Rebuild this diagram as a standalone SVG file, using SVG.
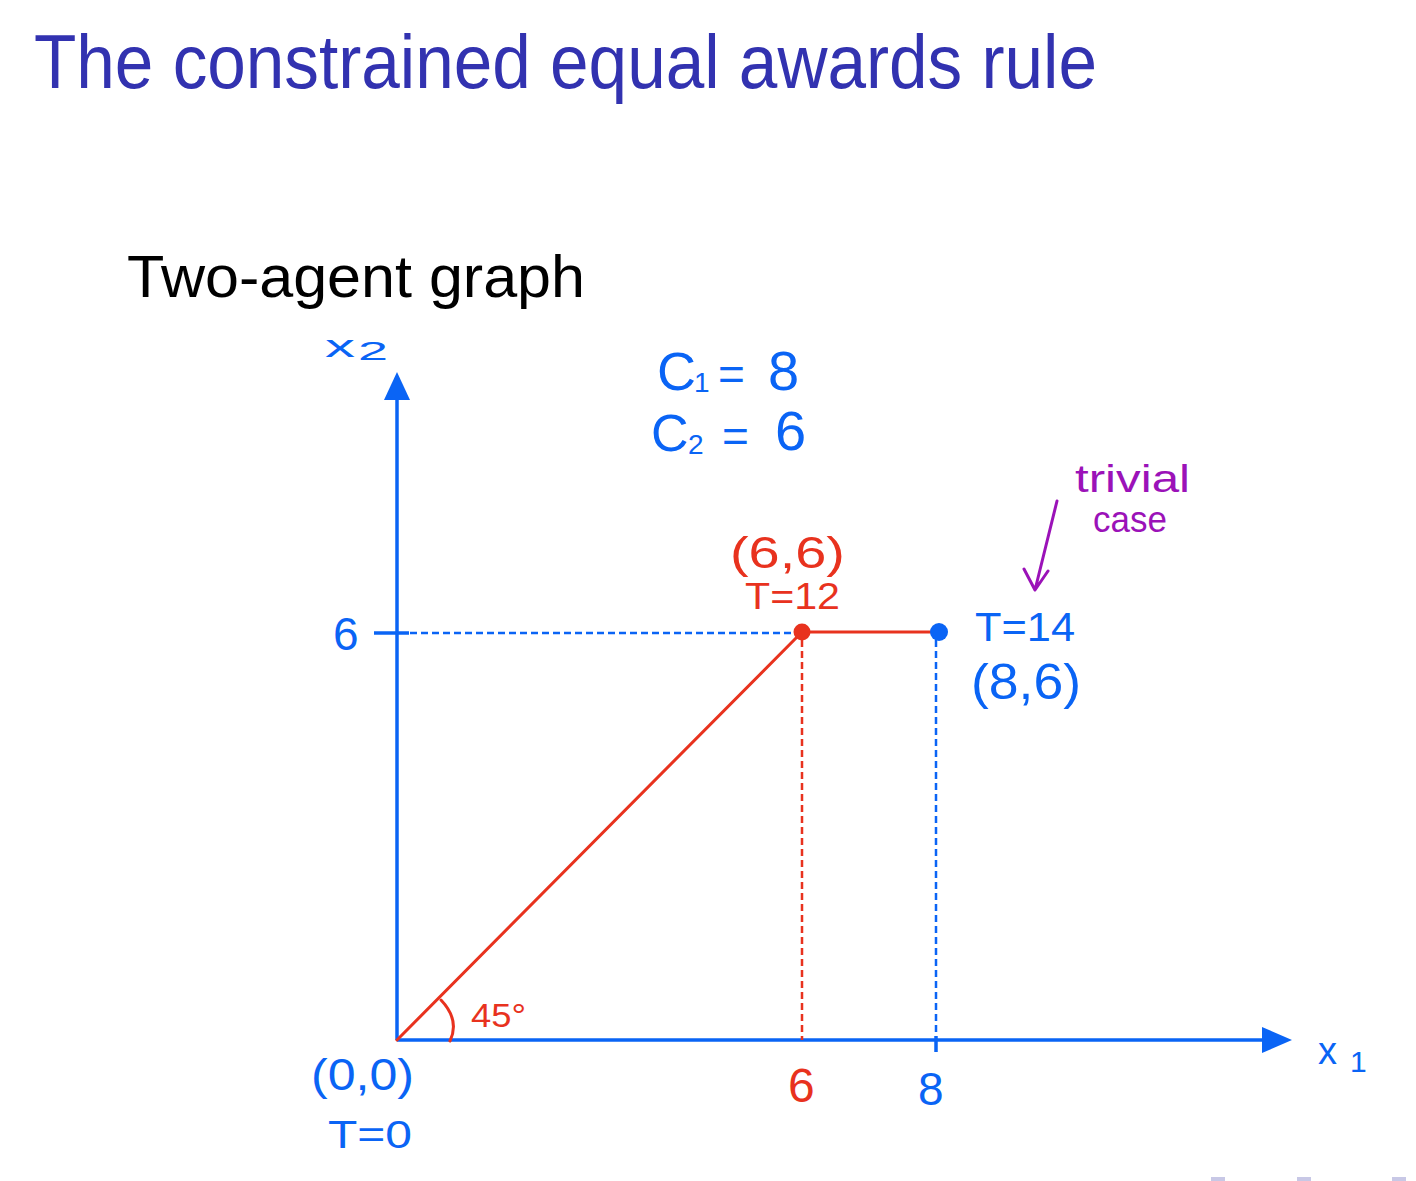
<svg xmlns="http://www.w3.org/2000/svg" width="1416" height="1181" viewBox="0 0 1416 1181">
<defs>
<style>
.title{font-family:"Liberation Sans","DejaVu Sans",sans-serif;fill:#3232b0}
.sub{font-family:"Liberation Sans","DejaVu Sans",sans-serif;fill:#000}
.hb{font-family:"Liberation Sans","DejaVu Sans",sans-serif;fill:#0a64f5}
.hr{font-family:"Liberation Sans","DejaVu Sans",sans-serif;fill:#e8321e}
.hp{font-family:"Liberation Sans","DejaVu Sans",sans-serif;fill:#9b12b8}
.axis{stroke:#0a64f5;stroke-width:3.5;fill:none}
.dashb{stroke:#0a64f5;stroke-width:2.5;stroke-dasharray:7 4;fill:none}
.dashr{stroke:#e8321e;stroke-width:2.5;stroke-dasharray:7 4;fill:none}
.red{stroke:#e8321e;stroke-width:3;fill:none;stroke-linecap:round}
.purple{stroke:#9b12b8;stroke-width:3;fill:none;stroke-linecap:round;stroke-linejoin:round}
</style>
</defs>
<rect width="1416" height="1181" fill="#fff"/>
<g id="title">
<text class="title" x="34" y="88" font-size="76" textLength="1063" lengthAdjust="spacingAndGlyphs">The constrained equal awards rule</text>
</g>
<g id="subtitle">
<text class="sub" x="127" y="297" font-size="60" textLength="458" lengthAdjust="spacingAndGlyphs">Two-agent graph</text>
</g>
<g id="connectors">
<line class="axis" x1="397" y1="1040" x2="397" y2="398"/>
<polygon points="397,372 384,400 410,400" fill="#0a64f5"/>
<line class="axis" x1="397" y1="1040" x2="1264" y2="1040"/>
<polygon points="1292,1040 1262,1027 1262,1053" fill="#0a64f5"/>
<line class="axis" x1="374" y1="633" x2="409" y2="633"/>
<line class="dashb" x1="410" y1="633" x2="800" y2="633"/>
<line class="dashr" x1="802" y1="640" x2="802" y2="1040"/>
<line class="dashb" x1="936" y1="640" x2="936" y2="1036"/>
<line class="axis" x1="936" y1="1036" x2="936" y2="1052"/>
<line class="red" x1="397" y1="1040" x2="802" y2="632"/>
<line class="red" x1="802" y1="632" x2="938" y2="632"/>
<path class="red" d="M441,1000 Q460,1020 450,1041"/>
<path class="purple" d="M1057,501 L1035,590 M1024,569 L1035,590 L1048,571"/>
</g>
<g id="point-6-6">
<circle cx="802" cy="632" r="8.5" fill="#e8321e"/>
<text class="hr" x="730" y="568" font-size="44" textLength="115" lengthAdjust="spacingAndGlyphs">(6,6)</text>
<text class="hr" x="745" y="609" font-size="36" textLength="95" lengthAdjust="spacingAndGlyphs">T=12</text>
</g>
<g id="point-8-6">
<circle cx="939" cy="632" r="9" fill="#0a64f5"/>
<text class="hb" x="975" y="641" font-size="40" textLength="100" lengthAdjust="spacingAndGlyphs">T=14</text>
<text class="hb" x="971" y="699" font-size="50" textLength="110" lengthAdjust="spacingAndGlyphs">(8,6)</text>
</g>
<g id="origin">
<text class="hb" x="311" y="1090" font-size="44" textLength="103" lengthAdjust="spacingAndGlyphs">(0,0)</text>
<text class="hb" x="328" y="1148" font-size="38" textLength="84" lengthAdjust="spacingAndGlyphs">T=0</text>
</g>
<g id="labels">
<text class="hb" x="325" y="357" font-size="32" textLength="30" lengthAdjust="spacingAndGlyphs">x</text>
<text class="hb" x="358" y="360" font-size="26" textLength="30" lengthAdjust="spacingAndGlyphs">2</text>
<text class="hb" x="1318" y="1064" font-size="38">x</text>
<text class="hb" x="1350" y="1072" font-size="30">1</text>
<text class="hb" x="657" y="390" font-size="54">C</text>
<text class="hb" x="694" y="392" font-size="28">1</text>
<text class="hb" x="718" y="390" font-size="46">=</text>
<text class="hb" x="768" y="390" font-size="56">8</text>
<text class="hb" x="651" y="451" font-size="52">C</text>
<text class="hb" x="688" y="454" font-size="28">2</text>
<text class="hb" x="722" y="452" font-size="46">=</text>
<text class="hb" x="775" y="450" font-size="56">6</text>
<text class="hb" x="333" y="650" font-size="46">6</text>
<text class="hr" x="788" y="1102" font-size="48">6</text>
<text class="hb" x="918" y="1105" font-size="46">8</text>
<text class="hr" x="471" y="1027" font-size="34" textLength="55" lengthAdjust="spacingAndGlyphs">45°</text>
<text class="hp" x="1075" y="492" font-size="38" textLength="115" lengthAdjust="spacingAndGlyphs">trivial</text>
<text class="hp" x="1093" y="532" font-size="36" textLength="74" lengthAdjust="spacingAndGlyphs">case</text>
</g>
<g id="nav" fill="#c8c8e6">
<rect x="1211" y="1177" width="14" height="4"/>
<rect x="1297" y="1177" width="14" height="4"/>
<rect x="1392" y="1177" width="14" height="4"/>
</g>
</svg>
